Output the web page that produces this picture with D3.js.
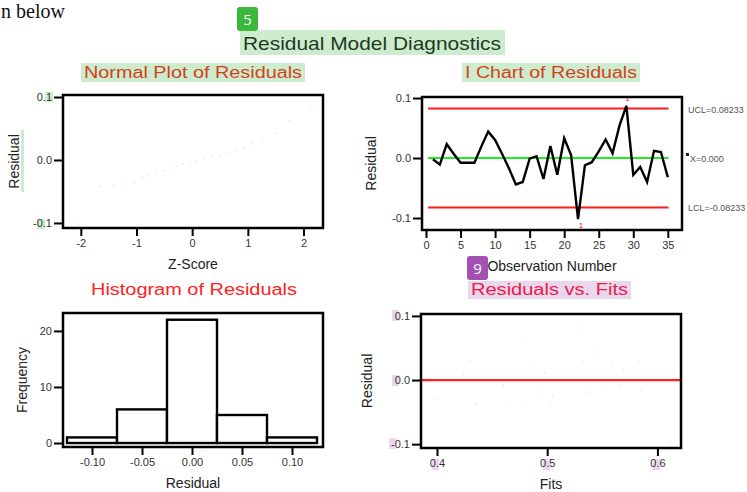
<!DOCTYPE html>
<html>
<head>
<meta charset="utf-8">
<script src="https://cdn.jsdelivr.net/npm/d3@7"></script>
<style>
  body { margin: 0; background: #fff; }
  svg { display: block; }
  text { font-family: "Liberation Sans", Arial, sans-serif; }
</style>
</head>
<body>
<div id="chart"></div>
<script>
// I chart residuals, observation 1..35
const residuals = [-0.002, -0.011, 0.023, 0.007, -0.008, -0.008, -0.008, 0.019, 0.044, 0.030,
  0.007, -0.017, -0.044, -0.040, -0.001, 0.003, -0.035, 0.020, -0.028, 0.033,
  0.005, -0.102, -0.012, -0.007, 0.011, 0.031, 0.008, 0.054, 0.087, -0.028,
  -0.015, -0.040, 0.012, 0.010, -0.032];
const ucl = 0.08233;
const lcl = -0.08233;
const centerValue = 0.0;

// normal probability plot (faint points)
const normalZ = [-2.04, -1.65, -1.41, -1.20, -1.04, -0.90, -0.78, -0.63, -0.52, -0.39, -0.27, -0.16,
  -0.04, 0.08, 0.20, 0.35, 0.50, 0.62, 0.77, 0.92, 1.07, 1.25, 1.52, 1.75, 2.15];
const normalRes = [-0.102, -0.042, -0.040, -0.038, -0.036, -0.029, -0.025, -0.020, -0.017, -0.013, -0.010, -0.006,
  -0.004, -0.001, 0.003, 0.005, 0.008, 0.011, 0.016, 0.020, 0.026, 0.029, 0.043, 0.062, 0.082];

// histogram
const binStarts = [-0.125, -0.075, -0.025, 0.025, 0.075];
const binWidth = 0.05;
const binCounts = [1, 6, 22, 5, 1];

// residuals vs fits (faint points)
const fitValues = [0.530, 0.478, 0.430, 0.542, 0.533, 0.559, 0.569, 0.583, 0.485, 0.498, 0.398, 0.435,
  0.463, 0.478, 0.504, 0.505, 0.496, 0.536, 0.550, 0.566, 0.585, 0.460, 0.612, 0.424, 0.515];
const fitRes = [0.081, 0.062, 0.030, 0.044, 0.030, 0.023, 0.016, 0.030, 0.019, 0.011, -0.030, -0.037,
  -0.039, -0.039, -0.036, -0.026, -0.019, -0.019, -0.016, -0.010, -0.016, -0.008, -0.096, 0.008, 0.000];

// tick values
const zTicks = [-2, -1, 0, 1, 2];
const residTicks = [-0.1, 0, 0.1];
const obsTicks = [0, 5, 10, 15, 20, 25, 30, 35];
const histXTicks = [-0.10, -0.05, 0.00, 0.05, 0.10];
const freqTicks = [0, 10, 20];
const fitTicks = [0.4, 0.5, 0.6];

const width = 747, height = 492;
const svg = d3.select('#chart').append('svg')
  .attr('width', width)
  .attr('height', height);

const greenHi = '#cdeccd';
const purpleHi = '#ead7ee';

// text from the surrounding document
svg.append('text')
  .attr('x', 1).attr('y', 18)
  .style('font-family', '"Liberation Serif", "Times New Roman", serif')
  .style('font-size', '20px')
  .style('fill', '#111')
  .text('n below');

// main title with highlight
svg.append('rect').attr('x', 240).attr('y', 30).attr('width', 265).attr('height', 25).attr('fill', greenHi);
svg.append('text')
  .attr('x', 372).attr('y', 50)
  .attr('text-anchor', 'middle')
  .attr('textLength', 258).attr('lengthAdjust', 'spacingAndGlyphs')
  .style('font-size', '19px')
  .style('fill', '#1d3a1d')
  .text('Residual Model Diagnostics');

function badge(x, y, label, color) {
  svg.append('rect').attr('x', x).attr('y', y).attr('width', 21).attr('height', 24).attr('rx', 3).attr('fill', color);
  svg.append('text').attr('x', x + 10.5).attr('y', y + 18)
    .attr('text-anchor', 'middle')
    .style('font-family', '"Open Sans", sans-serif')
    .style('font-size', '15px').style('fill', '#fff')
    .text(label);
}

// Draws a framed panel with outward ticks
function panel(opts) {
  const { x, y, xTicks, yTicks, xFmt, yFmt, title, titleColor, titleHi, titleBox, xLabel, yLabel, yLabelX } = opts;
  const [l, r] = x.range();
  const [b, t] = y.range();
  const g = svg.append('g');

  if (titleHi) {
    g.append('rect').attr('x', titleBox[0]).attr('y', titleBox[1])
      .attr('width', titleBox[2]).attr('height', titleBox[3]).attr('fill', titleHi);
  }
  g.append('text')
    .attr('x', titleBox[0] + titleBox[2] / 2).attr('y', titleBox[1] + titleBox[3] - 4)
    .attr('text-anchor', 'middle')
    .attr('textLength', titleBox[2] - 6).attr('lengthAdjust', 'spacingAndGlyphs')
    .style('font-size', '16px')
    .style('fill', titleColor)
    .text(title);

  const xAxis = g.append('g')
    .attr('transform', `translate(0,${b})`)
    .call(d3.axisBottom(x).tickValues(xTicks).tickFormat(xFmt).tickSize(8).tickSizeOuter(0).tickPadding(3));
  const yAxis = g.append('g')
    .attr('transform', `translate(${l},0)`)
    .call(d3.axisLeft(y).tickValues(yTicks).tickFormat(yFmt).tickSize(9).tickSizeOuter(0).tickPadding(2));
  [xAxis, yAxis].forEach(a => {
    a.select('.domain').remove();
    a.selectAll('line').attr('stroke', '#000').attr('stroke-width', 2);
    a.selectAll('text').style('font-size', '11px').style('fill', '#333').style('font-family', '"Liberation Sans", Arial, sans-serif');
  });

  g.append('text')
    .attr('x', (l + r) / 2).attr('y', b + 41)
    .attr('text-anchor', 'middle')
    .style('font-size', '14px').style('fill', '#222')
    .text(xLabel);
  g.append('text')
    .attr('transform', `translate(${yLabelX},${(t + b) / 2}) rotate(-90)`)
    .attr('text-anchor', 'middle')
    .style('font-size', '14px').style('fill', '#222')
    .text(yLabel);

  const plot = g.append('g');
  // frame on top
  g.append('rect')
    .attr('x', l).attr('y', t).attr('width', r - l).attr('height', b - t)
    .attr('fill', 'none').attr('stroke', '#000').attr('stroke-width', 2.5);
  return plot;
}

// plain hyphen as minus sign
const hy = f => d => f(d).replace('\u2212', '-');
const f1 = hy(d3.format('.1f'));
const f2 = hy(d3.format('.2f'));
const fi = hy(d3.format('d'));

// small annotation highlights behind tick labels
const smallHi = [
  [45, 92, 8, 10, greenHi], [37, 219, 8, 10, greenHi], [21, 130, 3, 62, greenHi],
  [392, 310, 7, 11, purpleHi], [392, 375, 7, 11, purpleHi], [389, 438, 7, 11, purpleHi],
  [432, 459, 7, 11, purpleHi], [543, 459, 7, 11, purpleHi], [653, 459, 7, 11, purpleHi]
];
smallHi.forEach(d => svg.append('rect').attr('x', d[0]).attr('y', d[1]).attr('width', d[2]).attr('height', d[3]).attr('fill', d[4]));

// Normal Plot of Residuals
const x1 = d3.scaleLinear().domain([-2.32, 2.35]).range([63, 323]);
const y1 = d3.scaleLinear().domain([-0.108, 0.1032]).range([228, 95]);
const p1 = panel({
  x: x1, y: y1, xTicks: zTicks, yTicks: residTicks, xFmt: fi, yFmt: f1,
  title: 'Normal Plot of Residuals', titleColor: '#d2411e', titleHi: greenHi, titleBox: [81, 63, 224, 19],
  xLabel: 'Z-Score', yLabel: 'Residual', yLabelX: 19
});
p1.selectAll('circle').data(normalZ).enter().append('circle')
  .attr('cx', (d, i) => x1(d)).attr('cy', (d, i) => y1(normalRes[i]))
  .attr('r', 0.9).attr('fill', '#e6e6e6');

// I Chart of Residuals
const x2 = d3.scaleLinear().domain([-0.58, 37.05]).range([422, 682]);
const y2 = d3.scaleLinear().domain([-0.12, 0.1017]).range([230, 97]);
const p2 = panel({
  x: x2, y: y2, xTicks: obsTicks, yTicks: residTicks, xFmt: fi, yFmt: f1,
  title: 'I Chart of Residuals', titleColor: '#d2411e', titleHi: greenHi, titleBox: [462, 63, 178, 19],
  xLabel: 'Observation Number', yLabel: 'Residual', yLabelX: 376
});
[ucl, lcl].forEach(v => p2.append('line')
  .attr('x1', x2(0.3)).attr('x2', x2(35.1)).attr('y1', y2(v)).attr('y2', y2(v))
  .attr('stroke', '#ff1a1a').attr('stroke-width', 2));
p2.append('line')
  .attr('x1', x2(0.3)).attr('x2', x2(35.1)).attr('y1', y2(centerValue)).attr('y2', y2(centerValue))
  .attr('stroke', '#22ee22').attr('stroke-width', 2);
p2.append('path')
  .datum(residuals)
  .attr('fill', 'none').attr('stroke', '#000').attr('stroke-width', 2.4).attr('stroke-linejoin', 'miter')
  .attr('d', d3.line().x((d, i) => x2(i + 1)).y(d => y2(d)));
// out-of-control flags
const flagged = residuals.map((d, i) => [i + 1, d]).filter(d => d[1] > ucl || d[1] < lcl);
p2.selectAll('.flag').data(flagged).enter().append('text')
  .attr('class', 'flag')
  .attr('x', d => x2(d[0]) + (d[1] > 0 ? 1 : 3))
  .attr('y', d => d[1] > 0 ? y2(d[1]) - 5 : y2(d[1]) + 9)
  .attr('text-anchor', 'middle')
  .style('font-size', '8px').style('fill', '#ff0000')
  .text('1');
// limit labels
const limitLabels = [[ucl, 'UCL=0.08233'], [centerValue, 'X=0.000'], [lcl, 'LCL=-0.08233']];
svg.selectAll('.limit').data(limitLabels).enter().append('text')
  .attr('class', 'limit')
  .attr('x', d => d[1][0] === 'X' ? 690 : 688)
  .attr('y', d => y2(d[0]) + 4)
  .style('font-size', '9px').style('fill', '#555')
  .text(d => d[1]);
svg.append('rect').attr('x', 686).attr('y', y2(centerValue) - 5).attr('width', 3).attr('height', 3).attr('fill', '#222');

// Histogram of Residuals
const x3 = d3.scaleLinear().domain([-0.129, 0.131]).range([63, 323]);
const y3 = d3.scaleLinear().domain([-0.71, 23.2]).range([447, 313]);
const p3 = panel({
  x: x3, y: y3, xTicks: histXTicks, yTicks: freqTicks, xFmt: f2, yFmt: fi,
  title: 'Histogram of Residuals', titleColor: '#ff2222', titleHi: null, titleBox: [88, 280, 212, 19],
  xLabel: 'Residual', yLabel: 'Frequency', yLabelX: 27
});
p3.selectAll('rect').data(binCounts).enter().append('rect')
  .attr('x', (d, i) => x3(binStarts[i]))
  .attr('y', d => y3(d))
  .attr('width', x3(binWidth) - x3(0))
  .attr('height', d => y3(0) - y3(d))
  .attr('fill', '#fff').attr('stroke', '#000').attr('stroke-width', 2.4);

// Residuals vs. Fits
const x4 = d3.scaleLinear().domain([0.3855, 0.6214]).range([421, 681]);
const y4 = d3.scaleLinear().domain([-0.106, 0.103]).range([448, 314]);
const p4 = panel({
  x: x4, y: y4, xTicks: fitTicks, yTicks: residTicks, xFmt: f1, yFmt: f1,
  title: 'Residuals vs. Fits', titleColor: '#e9204a', titleHi: purpleHi, titleBox: [468, 281, 163, 18],
  xLabel: 'Fits', yLabel: 'Residual', yLabelX: 372
});
p4.selectAll('circle').data(fitValues).enter().append('circle')
  .attr('cx', d => x4(d)).attr('cy', (d, i) => y4(fitRes[i]))
  .attr('r', 0.9).attr('fill', '#ebebeb');
p4.append('line')
  .attr('x1', x4.range()[0]).attr('x2', x4.range()[1]).attr('y1', y4(0)).attr('y2', y4(0))
  .attr('stroke', '#ff2020').attr('stroke-width', 2.2);

badge(237, 7, '5', '#3bb83b');
badge(467, 256, '9', '#a352b3');
</script>
</body>
</html>
